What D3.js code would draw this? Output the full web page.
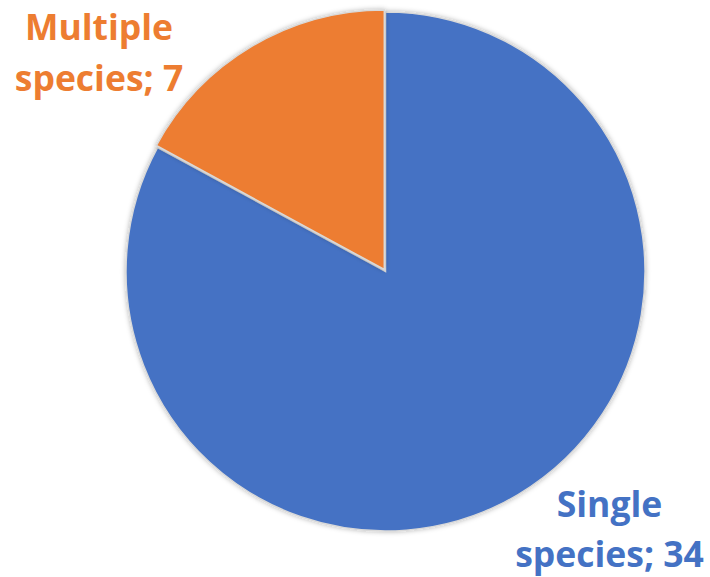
<!DOCTYPE html>
<html>
<head>
<meta charset="utf-8">
<script src="https://cdn.jsdelivr.net/npm/d3@7"></script>
<style>
  html, body { margin: 0; padding: 0; background: #fff; }
  svg { display: block; }
</style>
</head>
<body>
<svg id="chart" width="710" height="577"></svg>
<script>
// Studies by number of species examined
const categories = ["Single species", "Multiple species"];
const counts = [34, 7];
const colors = ["#4472C4", "#ED7D31"];

const width = 710, height = 577;
const cx = 385.5, cy = 271.5, radius = 259.5;

const svg = d3.select("#chart");

const defs = svg.append("defs");
const shadow = defs.append("filter").attr("id", "soft-shadow")
  .attr("x", "-10%").attr("y", "-10%").attr("width", "120%").attr("height", "120%");
shadow.append("feDropShadow")
  .attr("dx", 0).attr("dy", 0).attr("stdDeviation", 2.5)
  .attr("flood-color", "#000").attr("flood-opacity", 0.3);

const data = categories.map((c, i) => ({ name: c, value: counts[i], color: colors[i] }));

const pie = d3.pie().sort(null).value(d => d.value);
const arc = d3.arc().innerRadius(0).outerRadius(radius);
const arcs = pie(data);

// Smaller slice is pulled out very slightly from the centre
const offsets = [[0, 0], [-1.2, -2]];

const g = svg.append("g").attr("transform", `translate(${cx},${cy})`);
g.selectAll("path.slice")
  .data(arcs)
  .join("path")
  .attr("class", "slice")
  .attr("transform", (d, i) => `translate(${offsets[i][0]},${offsets[i][1]})`)
  .attr("d", arc)
  .attr("fill", d => d.data.color)
  .attr("stroke", "#D9D9D9")
  .attr("stroke-width", 1.5)
  .attr("filter", "url(#soft-shadow)");

// Category labels
const labels = [
  { lines: ["Multiple", "species; " + counts[1]], x: 99, y: [40, 91], color: colors[1] },
  { lines: ["Single", "species; " + counts[0]], x: 609.5, y: [517, 567], color: colors[0] }
];

labels.forEach(l => {
  l.lines.forEach((t, j) => {
    svg.append("text")
      .attr("x", l.x)
      .attr("y", l.y[j])
      .attr("text-anchor", "middle")
      .attr("font-family", "'Open Sans', sans-serif")
      .attr("font-weight", "bold")
      .attr("font-size", 35.5)
      .attr("fill", l.color)
      .text(t);
  });
});
</script>
</body>
</html>
